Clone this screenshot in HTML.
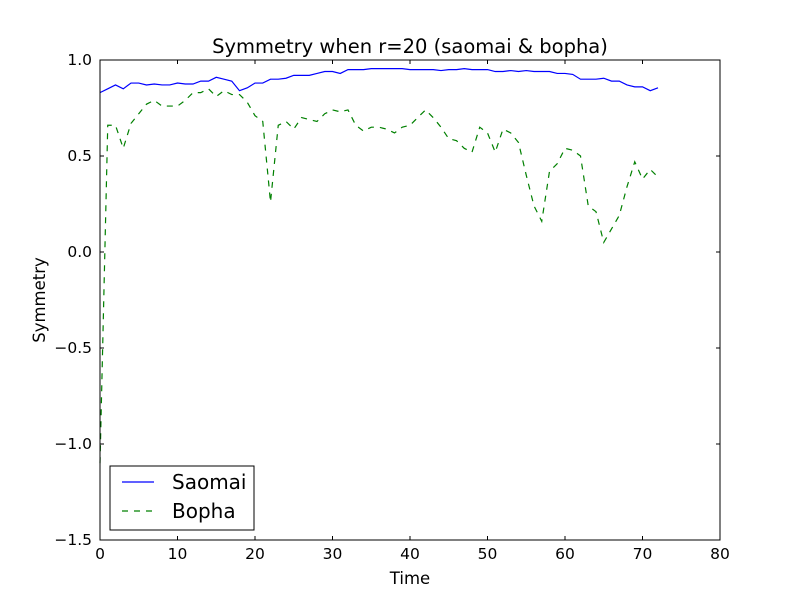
<!DOCTYPE html>
<html><head><meta charset="utf-8"><style>
body{margin:0;background:#fff;}
svg text{font-family:"DejaVu Sans","Liberation Sans",sans-serif;}
</style></head><body>
<svg id="chart" width="800" height="600" xmlns="http://www.w3.org/2000/svg">
<rect width="800" height="600" fill="#fff"/>
<text x="410" y="53" font-size="19.5" text-anchor="middle">Symmetry when r=20 (saomai &amp; bopha)</text>
<g id="marks"></g>
<rect x="100" y="60" width="620" height="480" fill="none" stroke="#000" stroke-width="1"/>
<g id="ticks"></g>
<text x="410" y="584" font-size="16.5" text-anchor="middle">Time</text>
<text x="45" y="300" font-size="16.5" text-anchor="middle" transform="rotate(-90 45 300)">Symmetry</text>
<g>
<rect x="110" y="466" width="144" height="64" fill="#fff" stroke="#000" stroke-width="1"/>
<g>
<line x1="122" y1="482" x2="154" y2="482" stroke="#0000ff" stroke-width="1.2"/>
<text x="172" y="489" font-size="20">Saomai</text></g>
<g>
<line x1="122" y1="511" x2="154" y2="511" stroke="#008000" stroke-width="1.2" stroke-dasharray="6,6"/>
<text x="172" y="518" font-size="20">Bopha</text></g>
</g>
</svg>
<script>
const xTicks=[0,10,20,30,40,50,60,70,80];
const yTicks=[-1.5,-1.0,-0.5,0.0,0.5,1.0];
const yTickLabels=["\u22121.5","\u22121.0","\u22120.5","0.0","0.5","1.0"];
const saomai=[0.83,0.85,0.87,0.85,0.88,0.88,0.87,0.875,0.87,0.87,0.88,0.875,0.875,0.89,0.89,0.91,0.90,0.89,0.84,0.855,0.88,0.88,0.90,0.90,0.905,0.92,0.92,0.92,0.93,0.94,0.94,0.93,0.95,0.95,0.95,0.955,0.955,0.955,0.955,0.955,0.95,0.95,0.95,0.95,0.945,0.95,0.95,0.955,0.95,0.95,0.95,0.94,0.94,0.945,0.94,0.945,0.94,0.94,0.94,0.93,0.93,0.925,0.90,0.90,0.90,0.905,0.89,0.89,0.87,0.86,0.86,0.84,0.855];
const bopha=[-1.1,0.66,0.66,0.54,0.67,0.72,0.77,0.79,0.76,0.76,0.76,0.79,0.83,0.83,0.85,0.81,0.84,0.82,0.82,0.78,0.71,0.68,0.26,0.66,0.68,0.64,0.70,0.69,0.68,0.72,0.74,0.73,0.74,0.66,0.63,0.65,0.65,0.64,0.62,0.65,0.66,0.70,0.74,0.70,0.65,0.59,0.58,0.54,0.52,0.65,0.62,0.52,0.64,0.62,0.57,0.40,0.24,0.16,0.42,0.46,0.54,0.53,0.50,0.24,0.21,0.05,0.12,0.19,0.34,0.47,0.38,0.43,0.39];
const X0=100,X1=720,Y0=540,Y1=60,xmin=0,xmax=80,ymin=-1.5,ymax=1.0;
function xs(v){return X0+(v-xmin)/(xmax-xmin)*(X1-X0);}
function ys(v){return Y0-(v-ymin)/(ymax-ymin)*(Y0-Y1);}
const NS="http://www.w3.org/2000/svg";
const marks=document.getElementById('marks'),ticks=document.getElementById('ticks');
function line(name,data,color,dash){
  const p=document.createElementNS(NS,'polyline');
  p.setAttribute('points',data.map((v,i)=>xs(i)+','+ys(v)).join(' '));
  p.setAttribute('fill','none');p.setAttribute('stroke',color);p.setAttribute('stroke-width','1.2');
  if(dash)p.setAttribute('stroke-dasharray',dash);
  
  
  marks.appendChild(p);
}
line('saomai-line',saomai,'#0000ff',null);
line('bopha-line',bopha,'#008000','6,6');
xTicks.forEach(t=>{
  const x=xs(t);
  const g=document.createElementNS(NS,'g');
  
  
  g.innerHTML=`<line x1="${x}" y1="540" x2="${x}" y2="536" stroke="#000"/><line x1="${x}" y1="60" x2="${x}" y2="64" stroke="#000"/><text x="${x}" y="559" font-size="15.5" text-anchor="middle">${t}</text>`;
  ticks.appendChild(g);
});
yTicks.forEach((t,i)=>{
  const y=ys(t);
  const g=document.createElementNS(NS,'g');
  
  
  g.innerHTML=`<line x1="100" y1="${y}" x2="104" y2="${y}" stroke="#000"/><line x1="720" y1="${y}" x2="716" y2="${y}" stroke="#000"/><text x="92" y="${y+5}" font-size="15.5" text-anchor="end">${yTickLabels[i]}</text>`;
  ticks.appendChild(g);
});
</script>
</body></html>
